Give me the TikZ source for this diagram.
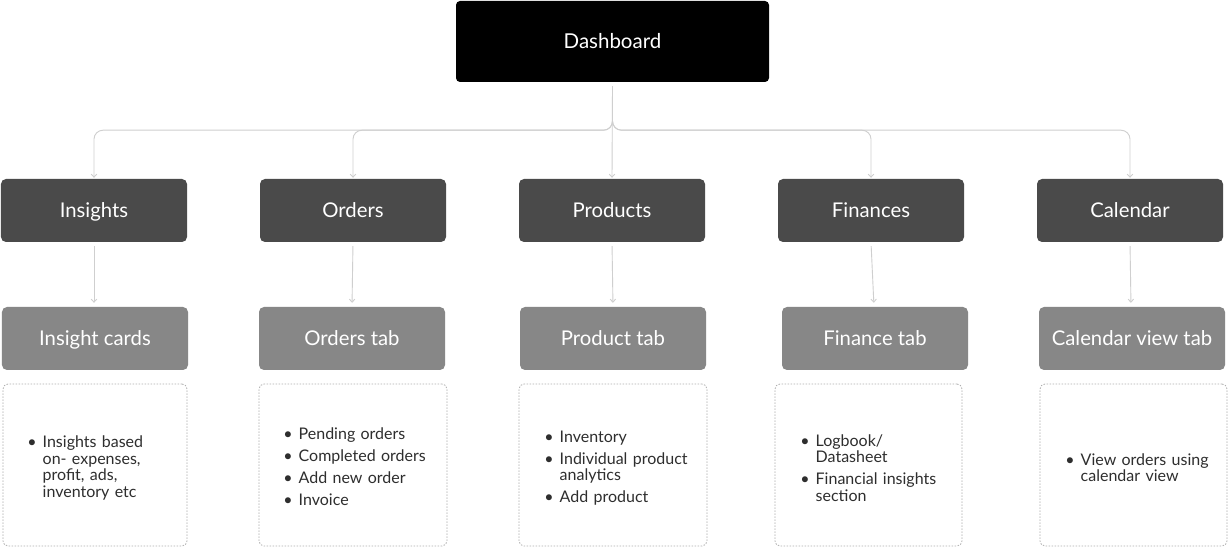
\documentclass[tikz,border=0pt]{standalone}
\usepackage{fontspec}
\setmainfont{Lato}
\usepackage{enumitem}
\usetikzlibrary{arrows.meta}
\definecolor{lvltwo}{HTML}{4A4A4A}
\definecolor{lvlthree}{HTML}{878787}
\definecolor{conn}{HTML}{CFCFCF}
\definecolor{dashc}{HTML}{AFAFAF}
\definecolor{bodytxt}{HTML}{2E2E2E}
\tikzset{
  boxtext/.style={text height=14.6bp, text depth=0bp},
  topbox/.style={fill=black, rounded corners=4bp, text=white, minimum width=313bp, minimum height=81bp, inner sep=0, boxtext, font=\fontsize{20.5bp}{22bp}\selectfont},
  secbox/.style={fill=lvltwo, rounded corners=5bp, text=white, minimum width=186bp, minimum height=63bp, inner sep=0, boxtext, font=\fontsize{20.3bp}{22bp}\selectfont},
  tabbox/.style={fill=lvlthree, rounded corners=5bp, text=white, minimum width=186bp, minimum height=63bp, inner sep=0, boxtext, font=\fontsize{20.3bp}{22bp}\selectfont},
  notebox/.style={draw=dashc, line width=0.8bp, dash pattern=on 1.5bp off 1.5bp, rounded corners=5bp, minimum height=162bp, inner sep=0},
  listnode/.style={anchor=west, inner sep=0, text width=#1, align=left, text=bodytxt, font=\fontsize{16bp}{16.5bp}\selectfont},
  link/.style={draw=conn, line width=0.9bp, -{Straight Barb[length=3bp,width=5.5bp]}},
  branch/.style={link, rounded corners=9bp}
}
\newenvironment{blist}{\begin{itemize}[leftmargin=12.5bp, labelsep=6bp, itemsep=5.5bp, parsep=0pt, topsep=0pt, partopsep=0pt, label=\textbullet]}{\end{itemize}}
\begin{document}
\begin{tikzpicture}[x=1bp, y=-1bp]
\useasboundingbox[fill=white] (0,0) rectangle (1228,547);
% top
\node[topbox] (dash) at (612.5,41.5) {Dashboard};
% level 2
\node[secbox] (ins) at (94,210.5) {Insights};
\node[secbox] (ord) at (353,210.5) {Orders};
\node[secbox] (pro) at (612,210.5) {Products};
\node[secbox] (fin) at (871,210.5) {Finances};
\node[secbox] (cal) at (1130,210.5) {Calendar};
% level 3
\node[tabbox] (inst) at (95,338.5) {Insight cards};
\node[tabbox] (ordt) at (352,338.5) {Orders tab};
\node[tabbox] (prot) at (613,338.5) {Product tab};
\node[tabbox] (fint) at (875,338.5) {Finance tab};
\node[tabbox] (calt) at (1132,338.5) {Calendar view tab};
% notes
\node[notebox, minimum width=184bp] (insn) at (95,465) {};
\node[notebox, minimum width=188bp] (ordn) at (353,465) {};
\node[notebox, minimum width=188bp] (pron) at (613,465) {};
\node[notebox, minimum width=187bp] (finn) at (868.5,465) {};
\node[notebox, minimum width=187bp] (caln) at (1133.5,465) {};
% note texts
\node[listnode=140bp] (insl) at (30,465.5) {\begin{blist}\item Insights based\newline on- expenses,\newline profit, ads,\newline inventory etc\end{blist}};
\node[listnode=155bp] (ordl) at (286,464.5) {\begin{blist}\item Pending orders\item Completed orders\item Add new order\item Invoice\end{blist}};
\node[listnode=160bp] (prol) at (547,465.5) {\begin{blist}\item Inventory\item Individual product\newline analytics\item Add product\end{blist}};
\node[listnode=150bp] (finl) at (803,465.5) {\begin{blist}\item Logbook/\newline Datasheet\item Financial insights\newline section\end{blist}};
\node[listnode=150bp] (call) at (1068,465.5) {\begin{blist}\item View orders using\newline calendar view\end{blist}};
% connectors from dashboard
\coordinate (stem) at ([yshift=-4bp]dash.south);
\coordinate (fork) at ([yshift=-48bp]dash.south);
\draw[branch] (stem) -- (fork) -| ([yshift=1bp]ins.north);
\draw[branch] (stem) -- (fork) -| ([yshift=1bp]ord.north);
\draw[link] (stem) -- ([yshift=1bp]pro.north);
\draw[branch] (stem) -- (fork) -| ([yshift=1bp]fin.north);
\draw[branch] (stem) -- (fork) -| ([yshift=1bp]cal.north);
% level 2 to level 3
\draw[link, shorten <=4bp, shorten >=4bp] (ins.south) -- (ins.south |- inst.north);
\draw[link, shorten <=4bp, shorten >=4bp] (ord.south) -- (ordt.north);
\draw[link, shorten <=4bp, shorten >=4bp] (pro.south) -- (prot.north);
\draw[link, shorten <=4bp, shorten >=4bp] (fin.south) -- ([xshift=-1bp]fint.north);
\draw[link, shorten <=4bp, shorten >=4bp] (cal.south) -- ([xshift=-1bp]calt.north);
\end{tikzpicture}
\end{document}
